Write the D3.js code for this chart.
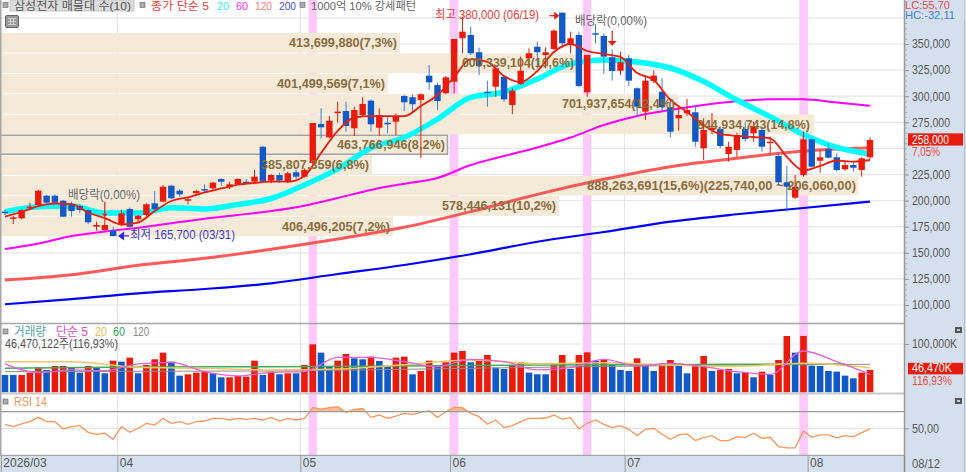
<!DOCTYPE html>
<html>
<head>
<meta charset="utf-8">
<script src="https://cdn.jsdelivr.net/npm/d3@7"></script>
<style>
  body { margin: 0; background: #fff; }
  svg { display: block; }
  text { font-family: "Liberation Sans", "Noto Sans CJK KR", sans-serif; }
</style>
</head>
<body>
<div id="chart"></div>
<script>
// daily candles
var opens = [189400,183000,183000,193200,195800,204700,204700,199900,196700,194800,
  191000,175000,171800,171200,176600,192000,182100,186200,197400,199000,
  214300,209500,200600,207000,211100,211800,220700,212700,215900,218100,
  218100,251600,219100,224500,218100,227100,222900,236000,273400,260600,
  284200,285800,269300,282000,295700,269800,274600,275600,300200,299000,
  296400,319700,310700,302800,313900,355500,358600,342100,304300,309100,
  318700,291600,311700,336300,347400,339500,345200,380000,349700,358600,
  303800,360300,357700,337300,324400,336300,307600,285200,314600,304300,
  289400,278800,283600,284600,250100,267600,268600,244600,248500,268600,
  264500,267600,255800,242700,217500,202800,224500,258700,238200,249400,
  241500,230000,234100,229300,241500];
var highs = [191000,185300,191700,198000,210200,205400,206000,200600,199000,196700,
  191700,179800,184600,175000,191000,193200,186200,197400,209200,214900,
  214900,211100,203200,210200,215600,218100,221400,218100,221400,220700,
  229300,252300,225500,226700,227700,229300,230900,274300,288400,281000,
  294700,294700,290000,299000,297000,288400,280400,283600,301200,301800,
  302800,329900,312900,319400,355000,376200,366600,346500,314900,329900,
  320300,307600,337900,345900,352200,346900,364100,380000,361800,361800,
  339500,369200,360300,344900,342600,339500,308500,320300,324400,317200,
  298000,290000,297300,291600,278800,283900,270800,256400,265000,275600,
  275600,270500,261200,246800,233400,224500,266000,259700,248500,254900,
  245300,238200,236700,241500,260600];
var lows = [186200,177600,182100,191000,195100,197400,196700,184300,184600,187800,
  177600,171200,171200,165700,176000,174400,178300,184600,191000,198400,
  201300,203700,196500,206000,208000,210200,214300,211100,214900,215600,
  215600,216900,216600,217200,216600,220700,222300,234100,259700,259700,
  274600,266000,261900,280400,266000,261900,264500,262800,285800,283600,
  240800,306000,286800,301800,302800,341100,339500,320300,290000,299500,
  294700,282700,310700,326700,326700,326700,344300,345900,341100,308500,
  299500,350700,321300,314900,320300,309800,280400,277200,312400,285200,
  260600,267000,281000,251600,238900,263800,250100,237300,241800,256400,
  256400,246800,245300,214000,189400,201500,222900,231500,226700,240500,
  227700,228600,227700,222900,239600];
var closes = [188100,184000,191000,194200,209500,198000,198000,184600,190000,191000,
  179200,176600,176600,166000,187800,175000,185500,196500,191700,213300,
  202200,206000,201300,209200,210200,217200,218100,215600,220700,217200,
  222900,218100,224500,219100,226200,222900,229300,274300,270200,276500,
  285200,271500,286800,292500,273100,282000,273100,281000,294200,292300,
  301800,313300,295400,318100,354800,361800,341100,328900,303400,326700,
  297000,305300,324400,341100,342100,342100,362800,350700,355500,309800,
  339500,358900,337900,324200,332500,314900,290000,314900,319700,289400,
  266000,282000,286800,256400,267600,269600,252300,251600,262800,259000,
  271500,251600,256400,217500,213300,213300,258700,232500,241500,241100,
  229300,234100,231500,240500,258000];

// moving averages, sampled every few days
var ma5 = [184600,189100,194800,197200,196700,188600,183300,177100,179000,190000,
  199600,203200,207800,211600,215200,216900,218100,218100,223600,245600,
  266700,279600,281000,281000,281000,290600,301200,318400,335600,332800,
  319400,313600,324100,342400,350000,343300,340400,337600,322200,315500,
  296400,284900,272400,263800,261900,260900,259700,241800,228800,233200,
  238400,237300,238900];
var ma20 = [189400,194200,194800,188100,188100,193200,192000,196300,202000,214900,
  230300,250400,260400,278100,298800,304000,316500,330900,334700,332800,
  327000,314100,296400,280400,263300,250900,244600];
var ma60 = [153600,158900,166100,170400,174000,178300,182700,186200,190000,195100,
  202500,210200,216200,221700,234100,242700,250900,260400,272400,281000,
  286800,291600,295100,297000,297000,294000,290900];
var ma120 = [123900,129000,138000,144700,153400,163200,174400,189400,206000,220400,
  232500,240500,247500,250700];
var ma200 = [100700,105700,111200,115300,120800,129700,138300,148600,160600,169900,
  179800,186900,192900,199000];

// volume in thousands of shares, and whether it rose against the day before
var volumes = [35880,35880,35880,40710,51750,46230,54510,54510,51060,40710,
  54510,51060,39330,65550,63480,71760,39330,56580,68310,82110,
  63480,34500,37260,40710,42780,39330,31050,31050,33810,32430,
  65550,35880,42780,37260,39330,39330,56580,99360,82110,53130,
  65550,79350,70380,68310,73830,64860,54510,71760,73830,37260,
  44160,65550,56580,62100,82110,85560,62100,64860,77280,51060,
  48300,55200,62100,40710,37260,37260,60030,77280,48300,77280,
  82800,65550,66930,56580,46230,44160,70380,56580,44160,60030,
  66930,55200,39330,56580,75210,44160,46230,48300,39330,40710,
  31050,42780,35880,66930,116610,82110,116610,55200,54510,44160,
  42780,34500,28980,40710,46470];
var volUp = [0,0,1,1,1,0,1,1,0,0,1,0,0,1,0,1,0,1,1,1,
  0,0,1,1,1,0,0,1,1,1,1,0,1,0,1,0,1,1,0,0,
  1,1,0,0,1,0,0,1,1,0,1,1,0,1,1,1,0,1,1,0,
  0,1,1,0,0,0,1,1,0,1,1,0,1,0,0,0,1,0,0,1,
  1,0,0,1,1,0,1,1,0,1,0,1,0,1,1,0,1,0,0,0,
  0,0,0,1,1];
var volMa5 = [58650,40710,46230,44850,58650,62100,42780,33810,41400,42780,
  72450,72450,63480,53130,68310,63480,46230,51060,68310,54510,
  60030,53130,42780,37260,85560,63480,37260];
var volMa20 = [63480,63480,51750,49680,46230,48300,57270,66930,59340,61410,56580,53820,60030,51060];
var volMa60 = [49680,52440,53130,54510,56580,57270,58650,58650];
var volMa60Days = [0,16,32,48,64,80,96,101];
var volMa120 = [42780,43470,44160,47610,51750,55200,57270,57960];
var volMa120Days = [0,16,32,48,64,80,96,104];

var rsi = [54.8,52,55.2,58,63.2,58,58,49.2,52,53.2,45.2,42.8,44,36.8,52,45.2,50,56,54,62,
  56,58,54.8,58,58.8,62,62,60,62,60.8,62,60,63.2,58.8,62,60,62,74.8,73.2,74.8,
  76,69.2,72.8,74,63.2,66,62,64.8,68,66.8,69.2,71.2,63.2,70,75.2,74.8,68,64,54.8,60,
  50.8,53.2,58,62,62,62.4,66,60.8,62.8,49.2,56,60,54.8,50.8,53.2,48.8,41.2,48.8,50,42.8,
  36.8,42,43.2,35.2,38.8,41.2,35.2,35.2,40,38.8,44,38,39.2,28,26.4,26.4,46.8,39.2,42,42,
  38.4,41.2,39.6,44.8,49.2];

var gridPrices = [375000,350000,325000,300000,275000,250000,225000,200000,175000,150000,125000,100000];
var priceTicks = [350000,325000,300000,275000,225000,200000,175000,150000,125000,100000];
var monthDays = [0,14,36,54,75,97];
var monthLabels = ["2026/03","04","05","06","07","08"];
var signalDays = [37,54,70,96];

// pattern labels, one per stacked row
var zoneLabels = ["413,699,880(7,3%)","600,339,104(10,6%)","401,499,569(7,1%)","701,937,654(12,4%)",
  "844,934,743(14,8%)","463,766,946(8,2%)","385,807,359(6,8%)",
  "888,263,691(15,6%)(225,740,00 ~ 206,060,00)","578,446,131(10,2%)","406,496,205(7,2%)"];

var width = 966, height = 472;
var plotRight = 904;
var red = "#e81b0c", blue = "#1259c8";

var svg = d3.select("#chart").append("svg").attr("width", width).attr("height", height);

// scales
var x = d3.scaleLinear().domain([0, 104]).range([5, 870]);
var step = x(1) - x(0);
var xEdge = d3.scaleLinear().domain([0, 104]).range([5 - step / 2, 870 - step / 2]);
var y = d3.scaleLinear().domain([100000, 350000]).range([305, 44]);
var yVol = d3.scaleLinear().domain([0, 100000]).range([392.3, 344]);
var yRsi = d3.scaleLinear().domain([50, 70]).range([428.3, 411.7]);

function text(g, px, py, str, fill, size, opts) {
  opts = opts || {};
  var t = g.append("text").attr("x", px).attr("y", py).text(str)
    .attr("fill", fill).attr("font-size", size).attr("dominant-baseline", "central");
  if (opts.weight) t.attr("font-weight", opts.weight);
  if (opts.anchor) t.attr("text-anchor", opts.anchor);
  if (opts.len) t.attr("textLength", opts.len).attr("lengthAdjust", "spacingAndGlyphs");
  return t;
}

function square(g, px, py) {
  g.append("rect").attr("x", px).attr("y", py).attr("width", 5).attr("height", 5)
    .attr("fill", "#aaa").attr("stroke", "#777").attr("stroke-width", 0.7);
}

// grid
var grid = svg.append("g");
grid.selectAll(".gy").data(gridPrices).join("line")
  .attr("x1", 1).attr("x2", plotRight).attr("y1", d => y(d)).attr("y2", d => y(d))
  .attr("stroke", "#e6e6e6").attr("stroke-width", 1.2);
grid.append("line").attr("x1", 1).attr("x2", plotRight).attr("y1", yVol(100000)).attr("y2", yVol(100000))
  .attr("stroke", "#e6e6e6").attr("stroke-width", 1.2);
grid.append("line").attr("x1", 1).attr("x2", plotRight).attr("y1", yRsi(50)).attr("y2", yRsi(50))
  .attr("stroke", "#e6e6e6").attr("stroke-width", 1.2);
grid.selectAll(".gx").data(monthDays.slice(1)).join("line")
  .attr("x1", d => xEdge(d)).attr("x2", d => xEdge(d)).attr("y1", 0).attr("y2", 456)
  .attr("stroke", "#e2e2e2").attr("stroke-width", 1);

// pink signal days
svg.append("g").selectAll("rect").data(signalDays).join("rect")
  .attr("x", d => xEdge(d)).attr("width", step).attr("y", 0).attr("height", 456.5)
  .attr("fill", "#fdc9fb");

// stacked pattern rows
var zoneRights = [400, 576, 388, 678, 814, 448, 372, 858.5, 559, 393];
var zoneTextX = [289, 462, 277, 562, 697, 337, 261, 587, 442, 282];
var zoneTextLen = [108, 112, 108, 113, 113, 108, 108, 269, 114, 108];
var rowTop = k => 33 + k * 20.4;
svg.append("g").selectAll("rect").data(zoneLabels).join("rect")
  .attr("x", 0).attr("y", (d, k) => rowTop(k)).attr("width", (d, k) => zoneRights[k]).attr("height", 19.6)
  .attr("fill", "#f5e9d8");

// gray selection lines of the 463 row
var box = svg.append("g").attr("fill", "none").attr("stroke", "#a2a2a2").attr("stroke-width", 1.5);
box.append("path").attr("d", "M1," + (rowTop(5) + 0.3) + "H447.5V" + (rowTop(5) + 19.3) + "H1");

// moving averages under the candles
function maLine(values, days) {
  days = days || d3.range(0, 105, (104 / (values.length - 1)));
  return d3.line().x((d, i) => x(days[i])).y(d => y(d)).curve(d3.curveMonotoneX)(values);
}
var lines = svg.append("g").attr("fill", "none").attr("stroke-linejoin", "round");
lines.append("path").attr("d", maLine(ma200)).attr("stroke", "#0000ff").attr("stroke-width", 2.2);
lines.append("path").attr("d", maLine(ma120)).attr("stroke", "#ff5a5a").attr("stroke-width", 3);
lines.append("path").attr("d", maLine(ma60)).attr("stroke", "#ff00ff").attr("stroke-width", 2);
lines.append("path").attr("d", maLine(ma20)).attr("stroke", "#00ffff").attr("stroke-width", 5.5);

// candles
var candle = svg.append("g").selectAll("g").data(d3.range(closes.length)).join("g");
var candleColor = i => closes[i] >= opens[i] ? red : blue;
candle.append("line")
  .attr("x1", i => x(i)).attr("x2", i => x(i))
  .attr("y1", i => y(highs[i])).attr("y2", i => y(lows[i]))
  .attr("stroke", i => closes[i] >= opens[i] ? red : "#3f7fd8").attr("stroke-width", 1);
candle.append("rect")
  .attr("x", i => x(i) - 3.2).attr("width", 6.4)
  .attr("y", i => y(Math.max(opens[i], closes[i])))
  .attr("height", i => Math.max(1.5, Math.abs(y(opens[i]) - y(closes[i]))))
  .attr("fill", candleColor);

svg.append("path").attr("d", maLine(ma5)).attr("fill", "none").attr("stroke", "#ee1c0c").attr("stroke-width", 1.8);

// text on the rows goes over everything
var zoneText = svg.append("g");
zoneLabels.forEach(function (d, k) {
  text(zoneText, zoneTextX[k], rowTop(k) + 10, d, "#8a6d3b", 12, { weight: 700, len: zoneTextLen[k] });
});

// annotations
var note = svg.append("g");
text(note, 68, 195, "배당락(0,00%)", "#666", 12, { len: 72 });
text(note, 575, 21, "배당락(0,00%)", "#666", 12, { len: 72 });
text(note, 435, 15, "최고 380,000 (06/19)", "#ef3b36", 12, { len: 104 });
text(note, 130, 235, "최저 165,700 (03/31)", "#3a3ad6", 12, { len: 105 });

function arrowDown(day, price, size) {
  var ax = x(day), ay = y(price);
  note.append("line").attr("x1", ax).attr("x2", ax).attr("y1", ay - 15).attr("y2", ay).attr("stroke", red).attr("stroke-width", 1.2);
  note.append("path").attr("d", `M${ax - size},${ay - size}H${ax + size}L${ax},${ay}Z`).attr("fill", red);
}
arrowDown(12, 184600, 3);
arrowDown(73, 348500, 4.5);
// 최고 arrow points at the high, 최저 arrow at the low
note.append("line").attr("x1", x(67) - 13).attr("x2", x(67) - 4).attr("y1", y(380000) + 3).attr("y2", y(380000) + 3)
  .attr("stroke", red).attr("stroke-width", 1.2);
note.append("path").attr("d", `M${x(67) - 8},${y(380000) - 1}V${y(380000) + 7}L${x(67) - 3},${y(380000) + 3}Z`).attr("fill", red);
note.append("line").attr("x1", x(13) + 6).attr("x2", x(13) + 16).attr("y1", y(165700) - 0.5).attr("y2", y(165700) - 0.5)
  .attr("stroke", "#2a2ae0").attr("stroke-width", 1.2);
note.append("path").attr("d", `M${x(13) + 11},${y(165700) - 5}V${y(165700) + 4}L${x(13) + 5},${y(165700) - 0.5}Z`).attr("fill", "#2a2ae0");

// volume panel
var volBars = svg.append("g");
volBars.selectAll("rect").data(volumes).join("rect")
  .attr("x", (d, i) => x(i) - 3.3).attr("width", 6.6)
  .attr("y", d => yVol(d)).attr("height", d => yVol(0) - yVol(d))
  .attr("fill", (d, i) => volUp[i] ? red : blue);

function volLine(values, days) {
  days = days || d3.range(0, 105, (104 / (values.length - 1)));
  return d3.line().x((d, i) => x(days[i])).y(d => yVol(d)).curve(d3.curveMonotoneX)(values);
}
var volLines = svg.append("g").attr("fill", "none");
volLines.append("path").attr("d", volLine(volMa120, volMa120Days)).attr("stroke", "#8c8c8c").attr("stroke-width", 1);
volLines.append("path").attr("d", volLine(volMa60, volMa60Days)).attr("stroke", "#3fae5a").attr("stroke-width", 1.5);
volLines.append("path").attr("d", volLine(volMa20)).attr("stroke", "#f5c468").attr("stroke-width", 1.5);
volLines.append("path").attr("d", volLine(volMa5)).attr("stroke", "#e85fd6").attr("stroke-width", 1.3);

// RSI panel
svg.append("clipPath").attr("id", "overbought").append("rect")
  .attr("x", 0).attr("y", 395).attr("width", plotRight).attr("height", yRsi(70) - 395);
svg.append("path").attr("clip-path", "url(#overbought)")
  .attr("d", d3.area().x((d, i) => x(i)).y0(yRsi(70)).y1(d => yRsi(d))(rsi))
  .attr("fill", "#f9bd94");
svg.append("path").attr("d", d3.line().x((d, i) => x(i)).y(d => yRsi(d))(rsi))
  .attr("fill", "none").attr("stroke", "#f7955a").attr("stroke-width", 1.3);

// panel dividers
var dividers = svg.append("g");
[[323.5, "#a6a6a6", 1.5], [393.5, "#c9c9c9", 2], [yRsi(70), "#9a9a9a", 1.2], [455.5, "#a6a6a6", 1.5]].forEach(function (l) {
  dividers.append("line").attr("x1", 0).attr("x2", plotRight).attr("y1", l[0]).attr("y2", l[0])
    .attr("stroke", l[1]).attr("stroke-width", l[2]);
});
dividers.append("line").attr("x1", 0.75).attr("x2", 0.75).attr("y1", 0).attr("y2", 456).attr("stroke", "#a6a6a6").attr("stroke-width", 1.5);

// right side and date bar
svg.append("rect").attr("x", plotRight).attr("y", 0).attr("width", width - plotRight).attr("height", height).attr("fill", "#d5e0ee");
svg.append("rect").attr("x", 0).attr("y", 456).attr("width", width).attr("height", height - 456).attr("fill", "#d5e0ee");
svg.append("line").attr("x1", plotRight + 0.5).attr("x2", plotRight + 0.5).attr("y1", 0).attr("y2", height).attr("stroke", "#999").attr("stroke-width", 1.5);
svg.append("line").attr("x1", 964.5).attr("x2", 964.5).attr("y1", 0).attr("y2", height).attr("stroke", "#b4bcc8");

function styleAxis(g, size, len) {
  g.select(".domain").remove();
  g.selectAll("text").attr("fill", "#555").attr("font-size", size);
  if (len) g.selectAll("text").attr("textLength", len).attr("lengthAdjust", "spacingAndGlyphs");
  g.selectAll("line").attr("stroke", "#999");
}

var minorTicks = d3.range(90000, 380000, 5000);
svg.append("g").attr("transform", `translate(${plotRight},0)`)
  .call(d3.axisRight(y).tickValues(minorTicks).tickSize(3).tickFormat(""))
  .call(g => { g.select(".domain").remove(); g.selectAll("line").attr("stroke", "#a9a9a9"); });
svg.append("g").attr("transform", `translate(${plotRight},0)`)
  .call(d3.axisRight(y).tickValues(priceTicks).tickSize(5).tickPadding(3).tickFormat(d3.format(",")))
  .call(g => styleAxis(g, 12, 38));
svg.append("g").attr("transform", `translate(${plotRight},0)`)
  .call(d3.axisRight(yVol).tickValues([100000]).tickSize(5).tickPadding(3).tickFormat(() => "100,000K"))
  .call(g => styleAxis(g, 12, 45));
svg.append("g").attr("transform", `translate(${plotRight},0)`)
  .call(d3.axisRight(yRsi).tickValues([50]).tickSize(5).tickPadding(3).tickFormat(() => "50,00"))
  .call(g => styleAxis(g, 12, 27));

// date axis
svg.append("g").attr("transform", "translate(0,456)")
  .call(d3.axisBottom(xEdge).tickValues(monthDays).tickSize(16).tickFormat((d, i) => monthLabels[i]))
  .call(g => styleAxis(g, 12))
  .call(g => g.selectAll("text").attr("text-anchor", "start").attr("dy", 0).attr("y", 11).attr("x", 2));
text(svg, 912, 464, "08/12", "#555", 12, { len: 28 });
svg.append("line").attr("x1", plotRight + 0.5).attr("x2", plotRight + 0.5).attr("y1", 456).attr("y2", 472).attr("stroke", "#888");

// LC / HC sit on top of the 375,000 tick
var rightTop = svg.append("g");
rightTop.append("rect").attr("x", 905.5).attr("y", 0).attr("width", 59).attr("height", 20).attr("fill", "#d5e0ee");
text(rightTop, 905, 5, "LC:55,70", "#ea4a4a", 11.5, { len: 45 });
text(rightTop, 905, 15, "HC:-32,11", "#3f7fe0", 11.5, { len: 50 });

// last price and volume flags
var flags = svg.append("g");
flags.append("rect").attr("x", 908).attr("y", y(258000) - 6.7).attr("width", 55).attr("height", 12.2).attr("fill", red);
text(flags, 912, y(258000) - 0.5, "258,000", "#fff", 12, { len: 37 });
text(flags, 912, 152, "7,05%", "#ef4a44", 12, { len: 28 });
flags.append("rect").attr("x", 908).attr("y", yVol(46470) - 7).attr("width", 55).attr("height", 11.5).attr("fill", red);
text(flags, 912, yVol(46470) - 1.5, "46,470K", "#fff", 12, { len: 40 });
text(flags, 912, 380.5, "116,93%", "#ef4a44", 12, { len: 40 });

// small panel icons
[327, 398].forEach(function (py) {
  flags.append("rect").attr("x", 955).attr("y", py).attr("width", 7).attr("height", 6).attr("fill", "#555");
  flags.append("rect").attr("x", 957).attr("y", py + 2).attr("width", 3).attr("height", 2).attr("fill", "#ccc");
});

// headers
var head = svg.append("g");
square(head, 3, 2.5);
head.append("rect").attr("x", 10).attr("y", 0).attr("width", 124).attr("height", 11).attr("fill", "#dcdcdc").attr("stroke", "#c8c8c8");
text(head, 14, 6, "삼성전자 매물대 수(10)", "#555", 11, { len: 117 });
square(head, 140, 2.5);
text(head, 151, 6, "종가 단순 5", "#f23b3b", 11, { len: 58 });
text(head, 217, 6, "20", "#28f0f0", 11, { len: 12 });
text(head, 236, 6, "60", "#ff28ff", 11, { len: 12 });
text(head, 255, 6, "120", "#ff7a7a", 11, { len: 17 });
text(head, 279, 6, "200", "#4a4af0", 11, { len: 17 });
square(head, 300, 2.5);
text(head, 311, 6, "1000억 10% 강세패턴", "#666", 11, { len: 105 });

// small grid button
head.append("rect").attr("x", 5.5).attr("y", 15.5).attr("width", 13).attr("height", 12).attr("rx", 1.5)
  .attr("fill", "#9a9a9a").attr("stroke", "#666");
head.append("path").attr("d", "M8,18.5H16M8,21.5H16M8,24.5H16M10.5,18V25M13.5,18V25").attr("stroke", "#ddd").attr("stroke-width", 0.8);

square(head, 3, 329);
text(head, 14, 332, "거래량", "#4aa8a8", 12, { len: 32 });
text(head, 56, 332, "단순 5", "#e84bd0", 12, { len: 32 });
text(head, 95, 332, "20", "#f0b84a", 12, { len: 12 });
text(head, 113, 332, "60", "#2fa85a", 12, { len: 12 });
text(head, 133, 332, "120", "#888", 12, { len: 16 });
text(head, 5, 344, "46,470,122주(116,93%)", "#555", 12, { len: 113 });
square(head, 3, 399);
text(head, 14, 402, "RSI 14", "#f7955a", 12, { len: 33 });
</script>
</body>
</html>
